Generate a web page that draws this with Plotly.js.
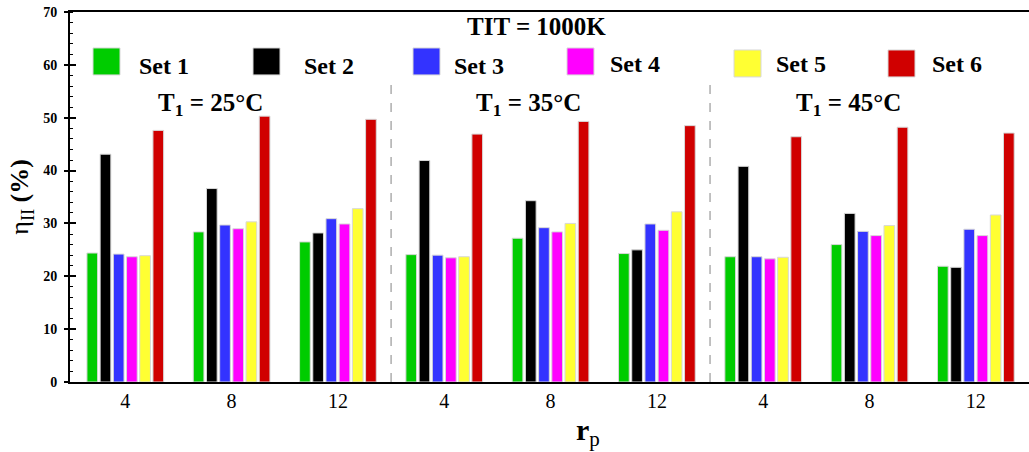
<!DOCTYPE html>
<html>
<head>
<meta charset="utf-8">
<script src="https://cdn.plot.ly/plotly-3.0.1.min.js"></script>
<style>html,body{margin:0;padding:0;background:#fff;}#chart{width:1029px;height:452px;}</style>
</head>
<body>
<div id="chart"></div>
<script>
// ---- data ----
const T1Labels = ["25°C", "35°C", "45°C"];
const rpValues = ["4", "8", "12"];
const seriesNames = ["Set 1", "Set 2", "Set 3", "Set 4", "Set 5", "Set 6"];
// order: T1=25 (rp 4,8,12), T1=35 (rp 4,8,12), T1=45 (rp 4,8,12)
const set1 = [24.4, 28.4, 26.5, 24.1, 27.2, 24.3, 23.7, 26.0, 21.9];
const set2 = [43.1, 36.6, 28.2, 41.9, 34.3, 25.0, 40.8, 31.9, 21.7];
const set3 = [24.2, 29.7, 30.9, 24.0, 29.2, 29.9, 23.7, 28.5, 28.9];
const set4 = [23.7, 29.0, 29.9, 23.5, 28.4, 28.7, 23.3, 27.7, 27.7];
const set5 = [23.9, 30.3, 32.8, 23.7, 30.0, 32.2, 23.6, 29.6, 31.6];
const set6 = [47.6, 50.3, 49.7, 46.9, 49.3, 48.5, 46.4, 48.2, 47.1];
const titleText = "TIT = 1000K";

// ---- styles ----
const colors = ["#00CC00", "#000000", "#3333FF", "#FF00FF", "#FFFF33", "#D00000"];
const serif = "Liberation Serif, Times New Roman, serif";

const xKeys = [];
T1Labels.forEach(t => rpValues.forEach(r => xKeys.push("T1=" + t + ", rp=" + r)));
const tickText = [];
T1Labels.forEach(() => rpValues.forEach(r => tickText.push(r)));

const allSets = [set1, set2, set3, set4, set5, set6];
const traces = allSets.map((vals, i) => ({
  type: "bar",
  name: seriesNames[i],
  x: xKeys,
  y: vals,
  marker: {color: colors[i], line: {color: "#d8d8d8", width: 1}},
  showlegend: false
}));
// overlay axis for inside major ticks
traces.push({type: "scatter", x: [xKeys[0]], y: [0], yaxis: "y2", mode: "markers",
  marker: {opacity: 0}, showlegend: false, hoverinfo: "skip"});

const L = 70, W = 959, Y0 = 382.3, PXU = 5.29;
const px2paper = p => (p - L) / W;
const py2y = p => (Y0 - p) / PXU;

// legend layout (pixel positions)
const legSquares = [[93, 48], [253, 48], [413, 48], [567, 48], [734, 50], [888, 50]];
const legTextX = [137, 302, 452, 608, 774, 930];
const legTextY = [66, 66, 66, 64, 64, 64];

const shapes = [];
const annotations = [];
seriesNames.forEach((n, i) => {
  const [sx, sy] = legSquares[i];
  shapes.push({type: "rect", xref: "paper", yref: "y",
    x0: px2paper(sx), x1: px2paper(sx + 27), y0: py2y(sy + 27), y1: py2y(sy),
    fillcolor: colors[i], line: {color: "#d8d8d8", width: 1}});
  annotations.push({xref: "paper", yref: "y", x: px2paper(legTextX[i]), y: py2y(legTextY[i]),
    xanchor: "left", yanchor: "middle", showarrow: false, text: n,
    font: {family: serif, size: 24, weight: "bold", color: "#000"}});
});
// group separators
[2.5, 5.5].forEach(xv => shapes.push({type: "line", xref: "x", yref: "y",
  x0: xv, x1: xv, y0: 0, y1: py2y(81), line: {color: "#999", width: 1.2, dash: "dash"}}));

// title
annotations.push({xref: "paper", yref: "y", x: px2paper(536), y: py2y(27), xanchor: "center", yanchor: "middle",
  showarrow: false, text: titleText, font: {family: serif, size: 25, weight: "bold", color: "#000"}});
// group labels
const groupCenters = [210, 528, 848];
T1Labels.forEach((t, i) => annotations.push({xref: "paper", yref: "y", x: px2paper(groupCenters[i]), y: py2y(105),
  xanchor: "center", yanchor: "middle", showarrow: false,
  text: "T<sub>1</sub> = " + t, font: {family: serif, size: 25, weight: "bold", color: "#000"}}));
// axis titles
annotations.push({xref: "paper", yref: "paper", x: px2paper(21), y: (Y0 - 197) / 370, xanchor: "center", yanchor: "middle",
  textangle: -90, showarrow: false, text: "η<sub>II</sub> <b>(%)</b>", font: {family: serif, size: 26, color: "#000"}});
annotations.push({xref: "paper", yref: "paper", x: px2paper(588), y: (Y0 - 432) / 370, xanchor: "center", yanchor: "middle",
  showarrow: false, text: "<b>r</b><sub>p</sub>", font: {family: serif, size: 30, color: "#000"}});

const layout = {
  width: 1029, height: 452,
  margin: {l: L, r: 0, t: 12, b: 70},
  paper_bgcolor: "#fff", plot_bgcolor: "#fff",
  barmode: "group", bargap: 0.255, bargroupgap: 0.19,
  xaxis: {type: "category", range: [-0.52, 8.5], tickvals: xKeys, ticktext: tickText,
    showline: true, linecolor: "#000", linewidth: 2, mirror: true, ticks: "", showgrid: false, zeroline: false,
    tickfont: {family: serif, size: 20, color: "#000"}, automargin: false},
  yaxis: {range: [0, 70], dtick: 10, showline: true, linecolor: "#000", linewidth: 2,
    ticks: "outside", ticklen: 4, tickwidth: 2, tickcolor: "#000", showgrid: false, zeroline: false,
    minor: {ticks: "inside", ticklen: 3, dtick: 2, tickcolor: "#000", tickwidth: 1},
    tickfont: {family: serif, size: 14, weight: "bold", color: "#000"}, ticklabelstandoff: 4, automargin: false},
  yaxis2: {range: [0, 70], dtick: 10, overlaying: "y", side: "left", showline: false, showgrid: false,
    zeroline: false, ticks: "inside", ticklen: 6, tickwidth: 2, tickcolor: "#000", showticklabels: false},
  shapes: shapes,
  annotations: annotations,
  showlegend: false
};

Plotly.newPlot("chart", traces, layout, {displayModeBar: false, staticPlot: true});
</script>
</body>
</html>
